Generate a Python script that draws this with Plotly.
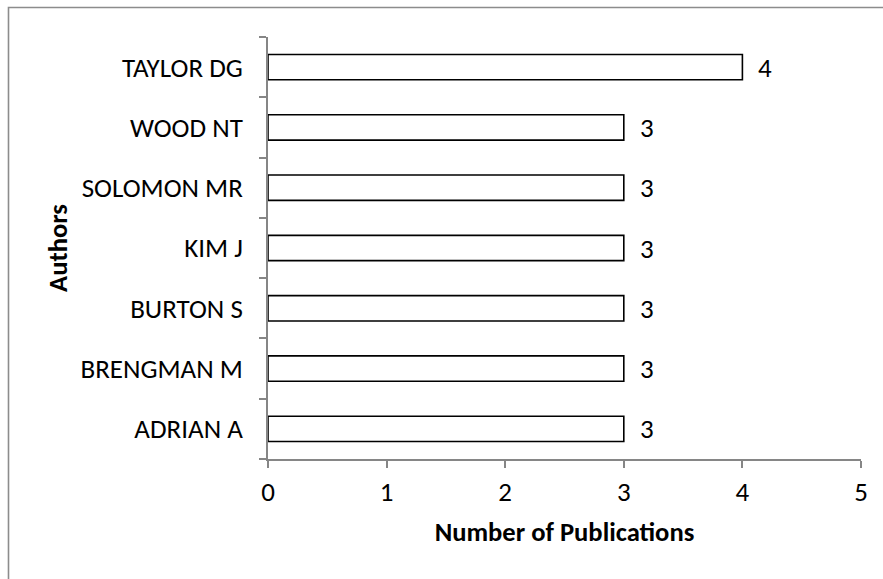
import plotly.graph_objects as go

# Authors listed bottom-to-top, as plotted on the category axis
authors = ["ADRIAN A", "BRENGMAN M", "BURTON S", "KIM J", "SOLOMON MR", "WOOD NT", "TAYLOR DG"]
publications = [3, 3, 3, 3, 3, 3, 4]
x_ticks = [0, 1, 2, 3, 4, 5]

FONT = "Calibri, Carlito, Lato, sans-serif"
FS = 27
FS_TITLE = 26.6
AXIS_GREY = "#868686"

W, H = 883, 579
L, R, T, B = 268, 22, 37, 120

fig = go.Figure(
    go.Bar(
        x=publications,
        y=authors,
        orientation="h",
        width=0.42,
        marker=dict(color="white", line=dict(color="black", width=1.6)),
        hoverinfo="x+y",
    )
)

# value labels just past the end of each bar
for a, v in zip(authors, publications):
    fig.add_annotation(
        x=v, y=a, text=str(v), showarrow=False,
        xanchor="left", yanchor="middle", xshift=14,
        font=dict(family=FONT, size=FS, color="black"),
    )

# outer chart frame
pw, ph = W - L - R, H - T - B
fig.add_shape(
    type="path", xref="paper", yref="paper",
    path=(f"M {(8.5 - L) / pw} {(H - B - 590) / ph} "
          f"L {(8.5 - L) / pw} {(H - B - 7.5) / ph} "
          f"L {(900 - L) / pw} {(H - B - 7.5) / ph}"),
    line=dict(color="#8c8c8c", width=1.6),
)

fig.update_layout(
    width=W, height=H,
    margin=dict(l=L, r=R, t=T, b=B),
    paper_bgcolor="white", plot_bgcolor="white",
    showlegend=False,
    font=dict(family=FONT, size=FS, color="black"),
    xaxis=dict(
        range=[0, 5], tickvals=x_ticks, ticktext=[str(t) for t in x_ticks],
        showgrid=False, zeroline=False,
        showline=True, linecolor=AXIS_GREY, linewidth=1.6,
        ticks="outside", ticklen=7, tickwidth=1.6, tickcolor=AXIS_GREY,
        ticklabelstandoff=1,
        tickfont=dict(family=FONT, size=FS, color="black"),
        title=dict(text="<b>Number of Publications</b>", standoff=15,
                   font=dict(family=FONT, size=FS_TITLE, color="black")),
    ),
    yaxis=dict(
        type="category", categoryorder="array", categoryarray=authors,
        range=[-0.5, len(authors) - 0.5],
        showgrid=False, zeroline=False,
        showline=True, linecolor=AXIS_GREY, linewidth=1.6,
        ticks="outside", tickson="boundaries", ticklen=7, tickwidth=1.6,
        tickcolor=AXIS_GREY, ticklabelstandoff=18,
        tickfont=dict(family=FONT, size=FS, color="black"),
        title=dict(text="<b>Authors</b>", standoff=5,
                   font=dict(family=FONT, size=FS_TITLE, color="black")),
    ),
)

fig.write_html("out.html")
